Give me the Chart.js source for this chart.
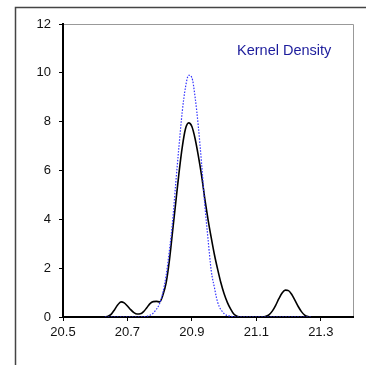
<!DOCTYPE html>
<html>
<head>
<meta charset="utf-8">
<script src="https://cdn.jsdelivr.net/npm/chart.js@4.4.0/dist/chart.umd.min.js"></script>
<style>
  html, body { margin: 0; padding: 0; background: #fff; }
  #wrap { position: relative; width: 366px; height: 365px; }
</style>
</head>
<body>
<div id="wrap"><canvas id="c" width="366" height="365"></canvas></div>
<script>
// Kernel density (black solid)
const kdX = [20.63,20.64,20.65,20.66,20.67,20.68,20.69,20.70,20.71,20.72,20.73,20.74,20.75,20.76,20.77,20.78,20.79,20.80,20.81,20.82,20.83,20.84,20.85,20.86,20.87,20.88,20.89,20.90,20.91,20.92,20.93,20.94,20.95,20.96,20.97,20.98,20.99,21.00,21.01,21.02,21.03,21.04,21.05,21.08,21.11,21.12,21.13,21.14,21.15,21.16,21.17,21.18,21.19,21.20,21.21,21.22,21.23,21.24,21.25,21.26,21.27];
const kdY = [0,0.03,0.12,0.3,0.5,0.62,0.58,0.45,0.3,0.18,0.12,0.13,0.22,0.38,0.55,0.63,0.64,0.62,0.9,1.4,2.3,3.5,4.7,5.9,6.95,7.7,7.95,7.8,7.3,6.6,5.8,4.85,4.0,3.25,2.55,1.95,1.4,0.95,0.6,0.33,0.12,0.03,0,0,0,0,0.03,0.1,0.25,0.48,0.75,0.98,1.1,1.08,0.92,0.68,0.43,0.22,0.08,0.02,0];
// Normal density (blue dotted)
const nX = [20.63,20.70,20.74,20.76,20.78,20.80,20.81,20.82,20.83,20.84,20.85,20.86,20.87,20.88,20.89,20.90,20.91,20.92,20.93,20.94,20.95,20.96,20.97,20.98,21.00,21.02,21.04,21.10,21.20,21.27];
const nY = [0,0,0,0.03,0.16,0.56,1.0,1.7,2.7,3.9,5.5,7.0,8.4,9.4,9.9,9.8,9.0,7.8,6.3,4.6,3.2,1.9,1.2,0.6,0.14,0.03,0,0,0,0];
const xTicks = [20.5,20.7,20.9,21.1,21.3];
const yTicks = [0,2,4,6,8,10,12];
const labelText = 'Kernel Density';

const pts = (xs, ys) => xs.map((x, i) => ({x: x, y: ys[i]}));

const framePlugin = {
  id: 'frame',
  beforeDraw(chart) {
    const ctx = chart.ctx;
    ctx.save();
    ctx.strokeStyle = '#444';
    ctx.lineWidth = 1.5;
    ctx.beginPath();
    ctx.moveTo(15.5, 366);
    ctx.lineTo(15.5, 7.5);
    ctx.lineTo(366, 7.5);
    ctx.stroke();
    const a = chart.chartArea;
    ctx.strokeStyle = '#999';
    ctx.lineWidth = 1;
    ctx.beginPath();
    ctx.moveTo(a.left, a.top + 0.5);
    ctx.lineTo(a.right + 0.5, a.top + 0.5);
    ctx.lineTo(a.right + 0.5, a.bottom);
    ctx.stroke();
    ctx.restore();
  },
  afterDraw(chart) {
    const ctx = chart.ctx;
    ctx.save();
    ctx.fillStyle = '#1c1c9c';
    ctx.font = '14.5px "Liberation Sans", Arial, sans-serif';
    ctx.textBaseline = 'alphabetic';
    ctx.textAlign = 'left';
    ctx.fillText(labelText, 237, 55);
    ctx.restore();
  }
};

new Chart(document.getElementById('c'), {
  type: 'scatter',
  data: {
    datasets: [
      {
        data: pts(nX, nY),
        showLine: true,
        borderColor: 'rgb(50,50,255)',
        borderWidth: 1.2,
        borderDash: [1.5, 1.5],
        pointRadius: 0,
        cubicInterpolationMode: 'monotone',
        fill: false
      },
      {
        data: pts(kdX, kdY),
        showLine: true,
        borderColor: '#000',
        borderWidth: 1.6,
        pointRadius: 0,
        cubicInterpolationMode: 'monotone',
        fill: false
      }
    ]
  },
  plugins: [framePlugin],
  options: {
    responsive: false,
    animation: false,
    devicePixelRatio: 1,
    layout: { padding: { left: 23, top: 24, right: 13, bottom: 0 } },
    plugins: { legend: { display: false }, tooltip: { enabled: false } },
    scales: {
      x: {
        type: 'linear',
        min: 20.5,
        max: 21.4,
        afterBuildTicks(axis) { axis.ticks = xTicks.map(v => ({ value: v })); },
        afterFit(scale) { scale.height = 48; },
        grid: { drawOnChartArea: false, drawTicks: true, tickLength: 4, color: '#000', tickWidth: 1 },
        border: { color: '#000', width: 2 },
        ticks: {
          color: '#111',
          padding: 4,
          maxRotation: 0,
          font: { family: '"Liberation Sans", Arial, sans-serif', size: 13 },
          callback: v => Number(v).toFixed(1)
        }
      },
      y: {
        min: 0,
        max: 12,
        afterBuildTicks(axis) { axis.ticks = yTicks.map(v => ({ value: v })); },
        afterFit(scale) { scale.width = 40; },
        grid: { drawOnChartArea: false, drawTicks: true, tickLength: 4, color: '#000', tickWidth: 1 },
        border: { color: '#000', width: 2 },
        ticks: {
          color: '#111',
          padding: 8,
          font: { family: '"Liberation Sans", Arial, sans-serif', size: 13 }
        }
      }
    }
  }
});
</script>
</body>
</html>
